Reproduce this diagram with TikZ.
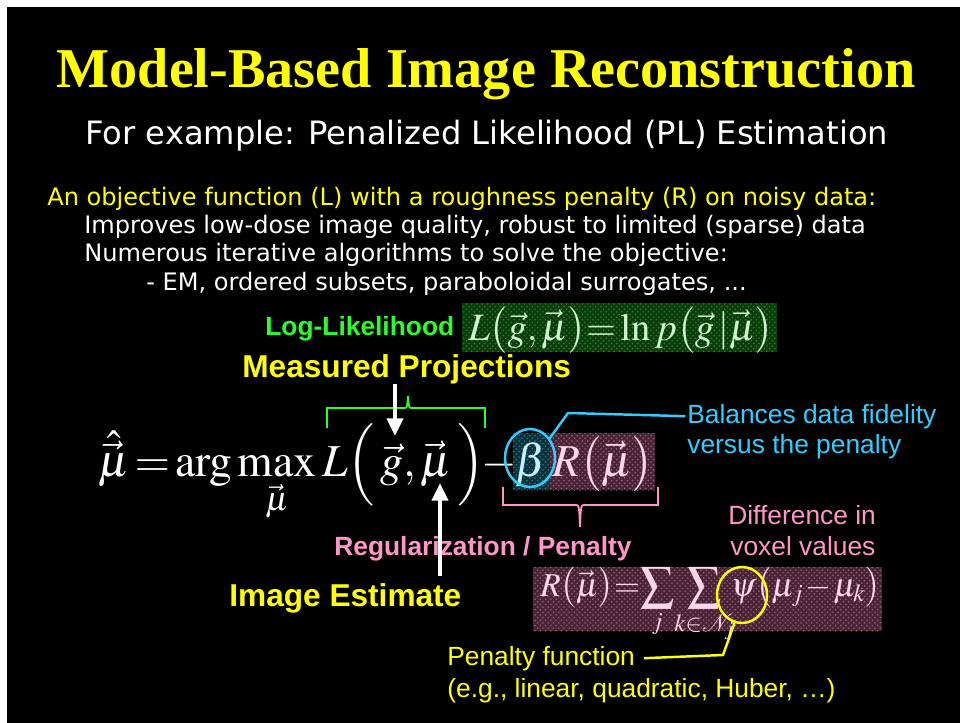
\documentclass[tikz,border=0pt]{standalone}
\usepackage{mathptmx}
\usepackage{fontspec}
\setmainfont{Liberation Serif}
\newfontfamily\slidefont{DejaVu Sans}
\newfontfamily\labelfont{Liberation Sans}
\usetikzlibrary{arrows.meta,patterns,shapes.geometric}

\definecolor{slideyellow}{RGB}{255,255,0}
\definecolor{llgreen}{RGB}{40,255,40}
\definecolor{balcyan}{RGB}{51,204,255}
\definecolor{regpink}{RGB}{255,150,200}
\definecolor{boxgreen}{RGB}{10,60,10}
\definecolor{dotgreen}{RGB}{50,130,50}
\definecolor{boxmaroon}{RGB}{75,35,55}
\definecolor{dotpink}{RGB}{150,100,120}
\definecolor{boxteal}{RGB}{10,50,60}
\definecolor{dotteal}{RGB}{40,120,130}
\definecolor{eqgreen}{RGB}{205,245,205}
\definecolor{eqpink}{RGB}{255,215,235}
\definecolor{eqcyan}{RGB}{200,240,255}

\newcommand{\tightmath}{\thickmuskip=2mu\relax\medmuskip=1mu\relax}

\begin{document}
\begin{tikzpicture}[x=0.02cm,y=-0.02cm]

    \tikzset{txt/.style={%
      inner sep=0pt,%
      anchor=base west}%
    };

    \tikzset{bullet/.style={txt, text=white, font=\slidefont\fontsize{13.7}{16}\selectfont}};
    \tikzset{tag/.style={txt, font=\labelfont\bfseries\fontsize{15}{18}\selectfont}};
    \tikzset{bigtag/.style={tag, font=\labelfont\bfseries\fontsize{18}{21}\selectfont}};
    \tikzset{note/.style={txt, font=\labelfont\fontsize{15}{18}\selectfont}};
    \tikzset{eqpart/.style={txt, text=white, font=\fontsize{26}{30}\selectfont\tightmath}};
    \tikzset{bigarrow/.style={white, line width=2.6pt, -{Triangle[width=9pt,length=10pt]}}};
    \tikzset{ring/.style={draw, ellipse, line width=1.4pt, inner sep=0pt, minimum width=1cm}};

    %%%%%%%%%%%%%%%
    %   slide     %
    %%%%%%%%%%%%%%%
    \useasboundingbox (0,0) rectangle (960,723);
    \fill [white] (0,0) rectangle (960,723);
    \fill [black] (7,7) rectangle (960,723);

    \path (486,88) node [txt, anchor=base, text=slideyellow, font=\bfseries\fontsize{32}{36}\selectfont] (title) {Model-Based Image Reconstruction};
    \path (85,145) node [txt, text=white, font=\slidefont\fontsize{18.3}{22}\selectfont] (sub) {For example: Penalized Likelihood (PL) Estimation};

    \path (47,205) node [bullet, text=slideyellow] (obj) {An objective function (L) with a roughness penalty (R) on noisy data:};
    \path (84,233) node [bullet] (improve) {Improves low-dose image quality, robust to limited (sparse) data};
    \path (84,261) node [bullet] (algos) {Numerous iterative algorithms to solve the objective:};
    \path (146,290) node [bullet] (em) {- EM, ordered subsets, paraboloidal surrogates, ...};

    %%%%%%%%%%%%%%%
    %  likelihood %
    %%%%%%%%%%%%%%%
    \fill [boxgreen] (462,303) rectangle (777,352);
    \fill [pattern=crosshatch dots, pattern color=dotgreen] (462,303) rectangle (777,352);
    \path (468,340) node [txt, text=eqgreen, font=\fontsize{22}{26}\selectfont\tightmath] (lleq) {$L\bigl(\vec g,\vec\mu\bigr)\!=\ln p\bigl(\vec g\mid\!\vec\mu\bigr)$};
    \path (265,335) node [tag, text=llgreen] (ll) {Log-Likelihood};
    \path (242,377) node [bigtag, text=slideyellow] (meas) {Measured Projections};

    %%%%%%%%%%%%%%%
    %  objective  %
    %%%%%%%%%%%%%%%
    \fill [boxteal] (513,433) rectangle (550,490);
    \fill [pattern=crosshatch dots, pattern color=dotteal] (513,433) rectangle (550,490);
    \fill [boxmaroon] (550,433) rectangle (655,490);
    \fill [pattern=crosshatch dots, pattern color=dotpink] (550,433) rectangle (655,490);

    \path (98,476) node [eqpart] (lhs) {$\hat{\vec\mu} = \arg\max\limits_{\vec\mu}$};
    \path (322,476) node [eqpart] (like) {$L\Bigl(\,\vec g,\vec\mu\,\Bigr)$};
    \path (481,476) node [eqpart] (minus) {$-$};
    \path (515,476) node [eqpart, text=eqcyan] (beta) {$\beta$};
    \path (552,476) node [eqpart, text=eqpink] (reg) {$R\bigl(\vec\mu\bigr)$};

    \path (530,458) node [ring, draw=balcyan, minimum height=1.16cm] (betaring) {};
    \path (687,423) node [note, text=balcyan] (bal) {Balances data fidelity};
    \path (687,453) node [note, text=balcyan] (bal2) {versus the penalty};
    \draw [balcyan, line width=1.4pt] (betaring.45) -- (568,413) -- ([xshift=-1pt]bal.west);

    % braces
    \draw [llgreen, line width=1pt] (327,428) |- (404,408) .. controls (407,408) .. (408,396) .. controls (409,408) .. (412,408) -| (485,428);
    \draw [regpink, line width=1pt] (503,487) |- (576,505) .. controls (579,505) .. (580,527) .. controls (581,505) .. (584,505) -| (658,487);

    \coordinate (gtip) at (395,436);
    \coordinate (mutip) at (440,483);
    \draw [bigarrow] (gtip |- meas.south) -- (gtip);

    \path (334,555) node [tag, text=regpink] (regtag) {Regularization / Penalty};
    \path (229,606) node [bigtag, text=slideyellow] (imgest) {Image Estimate};
    \draw [bigarrow] ([yshift=4pt]mutip |- imgest.north) -- (mutip);

    %%%%%%%%%%%%%%%
    %   penalty   %
    %%%%%%%%%%%%%%%
    \path (728,524) node [note, text=regpink] (diff) {Difference in};
    \path (730,555) node [note, text=regpink] (diff2) {voxel values};

    \fill [boxmaroon] (533,567) rectangle (882,631);
    \fill [pattern=crosshatch dots, pattern color=dotpink] (533,567) rectangle (882,631);
    \path (540,596) node [txt, text=eqpink, font=\fontsize{19}{23}\selectfont\tightmath] (regeq) {$\displaystyle R\bigl(\vec\mu\bigr)\!=\!\sum_j\!\sum_{k\in\mathcal{N}_j}\!\!\psi\bigl(\mu_j-\mu_k\bigr)$};

    \path (742,595) node [ring, draw=slideyellow, minimum height=1.12cm] (psiring) {};
    \path (447,665) node [note, text=slideyellow] (pen) {Penalty function};
    \path (447,697) node [note, text=slideyellow] (pen2) {(e.g., linear, quadratic, Huber, \dots)};
    \draw [slideyellow, line width=1.4pt] (psiring.255) -- (723,655) -- ([xshift=5pt]pen.east);

  \end{tikzpicture}
\end{document}
